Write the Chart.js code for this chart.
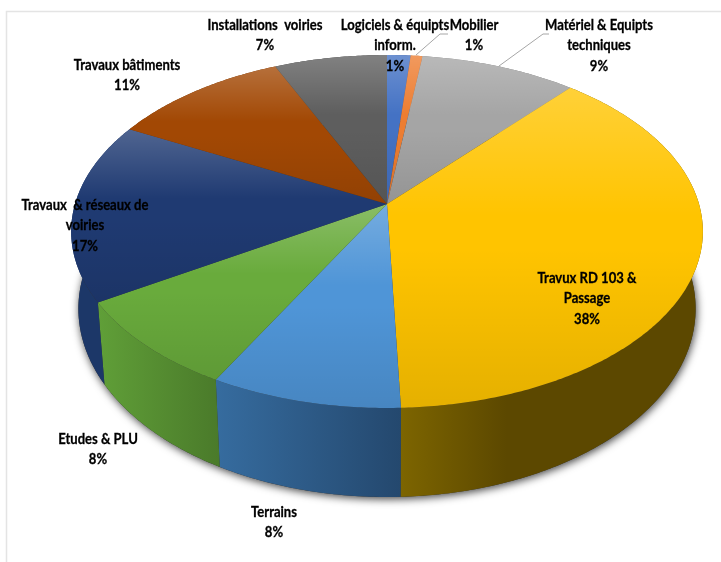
<!DOCTYPE html>
<html>
<head>
<meta charset="utf-8">
<style>
  html, body { margin: 0; padding: 0; background: #fff; }
  canvas { display: block; }
</style>
<script src="https://cdn.jsdelivr.net/npm/chart.js@4/dist/chart.umd.min.js"></script>
</head>
<body>
<canvas id="pie" width="721" height="562"></canvas>
<script>
const categories = [
    'Logiciels & équipts inform.', 'Mobilier', 'Matériel & Equipts techniques',
    'Travux RD 103 & Passage', 'Terrains', 'Etudes & PLU',
    'Travaux & réseaux de voiries', 'Travaux bâtiments', 'Installations voiries',
];
const shares = [1.4, 0.7, 9.3, 38.0, 8.45, 8.35, 16.5, 10.6, 6.7];

// label text per line, the percentage is added from the data
const labelLines = [
    ['Logiciels & équipts', 'inform.'], ['Mobilier'], ['Matériel & Equipts', 'techniques'],
    ['Travux RD 103 &', 'Passage'], ['Terrains'], ['Etudes & PLU'],
    ['Travaux  & réseaux de', 'voiries'], ['Travaux bâtiments'], ['Installations  voiries'],
];
const labelAnchors = [
    [395, 25], [474, 25], [599, 25], [587, 278], [274, 512],
    [98, 439], [85, 205], [127, 65], [265, 25],
];
const leaderLines = [
    [[416, 55], [440, 34], [448, 34]],
    [[499, 66], [543, 34], [549, 34]],
];

const faceColors = ['#4472c4', '#ed7d31', '#a5a5a5', '#ffc400', '#4f95d7', '#69ab3c', '#1f3a72', '#a24804', '#5e5e5e'];
const wallColors = [
    ['#2f5597', '#2f5597'], ['#b85f20', '#b85f20'], ['#7a7a7a', '#7a7a7a'],
    ['#7d6500', '#5c4800'], ['#366c9f', '#24486e'], ['#609f38', '#4a7a2a'],
    ['#1c3768', '#1c3768'], ['#6d3306', '#6d3306'], ['#444444', '#444444'],
];

// top disc seen in perspective: apex sits above the centre of the ellipse
const cx = 387, apexY = 204, radiusX = 312, spanY = 140.4, tilt = -0.1558;

function project(angle, lower) {
    const u = Math.cos(angle), v = Math.sin(angle);
    const d = 1 + tilt * v;
    const x = radiusX * u / d;
    const y = (apexY + spanY * v) / d;
    if (!lower) return [cx + x, y];
    return [cx + x * 0.977, 385 + 1.067 * (y - 303)];
}

function arcPoints(start, end, lower) {
    const n = Math.max(2, Math.ceil((end - start) / 0.01));
    const pts = [];
    for (let i = 0; i <= n; i++) pts.push(project(start + (end - start) * i / n, lower));
    return pts;
}

function tracePoly(ctx, pts) {
    ctx.beginPath();
    pts.forEach((p, i) => (i ? ctx.lineTo(p[0], p[1]) : ctx.moveTo(p[0], p[1])));
    ctx.closePath();
}

const pie3d = {
    id: 'pie3d',
    beforeDatasetsDraw(chart) {
        const ctx = chart.ctx;
        const arcs = chart.getDatasetMeta(0).data;
        ctx.save();

        // soft shadow under the lower rim
        ctx.save();
        ctx.shadowColor = 'rgba(0,0,0,0.75)';
        ctx.shadowBlur = 8;
        ctx.shadowOffsetY = 2;
        ctx.shadowOffsetX = 1;
        ctx.fillStyle = '#333';
        tracePoly(ctx, arcPoints(0, Math.PI * 2, true));
        ctx.fill();
        ctx.restore();

        // side walls, then the top face over them
        arcs.forEach((arc, i) => {
            const top = arcPoints(arc.startAngle, arc.endAngle, false);
            const low = arcPoints(arc.startAngle, arc.endAngle, true).reverse();
            const xs = top.concat(low).map((p) => p[0]);
            const g = ctx.createLinearGradient(Math.min(...xs), 0, Math.max(...xs), 0);
            g.addColorStop(0, wallColors[i][0]);
            g.addColorStop(i === 3 ? 0.35 : 1, wallColors[i][1]);
            if (i === 3) g.addColorStop(1, wallColors[i][1]);
            ctx.fillStyle = g;
            tracePoly(ctx, top.concat(low));
            ctx.fill();
        });

        // every slice gets its own vertical sheen, light at its upper edge
        arcs.forEach((arc, i) => {
            const pts = [[cx, apexY]].concat(arcPoints(arc.startAngle, arc.endAngle, false));
            const ys = pts.map((p) => p[1]);
            const shade = ctx.createLinearGradient(0, Math.min(...ys), 0, Math.max(...ys));
            shade.addColorStop(0, 'rgba(255,255,255,0.22)');
            shade.addColorStop(0.4, 'rgba(255,255,255,0)');
            shade.addColorStop(0.5, 'rgba(0,0,0,0)');
            shade.addColorStop(1, 'rgba(0,0,0,0.1)');
            tracePoly(ctx, pts);
            ctx.fillStyle = faceColors[i];
            ctx.fill();
            ctx.fillStyle = shade;
            ctx.fill();
        });
        ctx.restore();
        return false;
    },
    afterDraw(chart) {
        const ctx = chart.ctx;
        const values = chart.data.datasets[0].data;
        const total = values.reduce((a, b) => a + b, 0);
        ctx.save();

        // page frame
        ctx.strokeStyle = '#e4e4e4';
        ctx.lineWidth = 1.5;
        ctx.beginPath();
        ctx.moveTo(6.5, 562);
        ctx.lineTo(6.5, 11.5);
        ctx.lineTo(721, 11.5);
        ctx.stroke();

        ctx.strokeStyle = '#a6a6a6';
        ctx.lineWidth = 1;
        leaderLines.forEach((line) => {
            ctx.beginPath();
            line.forEach((p, i) => (i ? ctx.lineTo(p[0], p[1]) : ctx.moveTo(p[0], p[1])));
            ctx.stroke();
        });

        // narrowed Lato stands in for the condensed label face
        const squeeze = 0.9;
        ctx.fillStyle = '#000';
        ctx.strokeStyle = '#000';
        ctx.lineWidth = 0.3;
        ctx.font = 'bold 14.5px Lato, "Open Sans", sans-serif';
        ctx.textAlign = 'center';
        ctx.textBaseline = 'middle';
        ctx.scale(squeeze, 1);
        labelLines.forEach((lines, i) => {
            const text = lines.concat(Math.round(values[i] / total * 100) + '%');
            text.forEach((t, j) => {
                const x = labelAnchors[i][0] / squeeze, y = labelAnchors[i][1] + j * 20.5;
                ctx.fillText(t, x, y);
                ctx.strokeText(t, x, y);
            });
        });
        ctx.restore();
    },
};

new Chart(document.getElementById('pie'), {
    type: 'pie',
    data: {
        labels: categories,
        datasets: [{ data: shares, backgroundColor: faceColors, borderWidth: 0 }],
    },
    options: {
        responsive: false,
        animation: false,
        plugins: { legend: { display: false }, tooltip: { enabled: false } },
    },
    plugins: [pie3d],
});
</script>
</body>
</html>
